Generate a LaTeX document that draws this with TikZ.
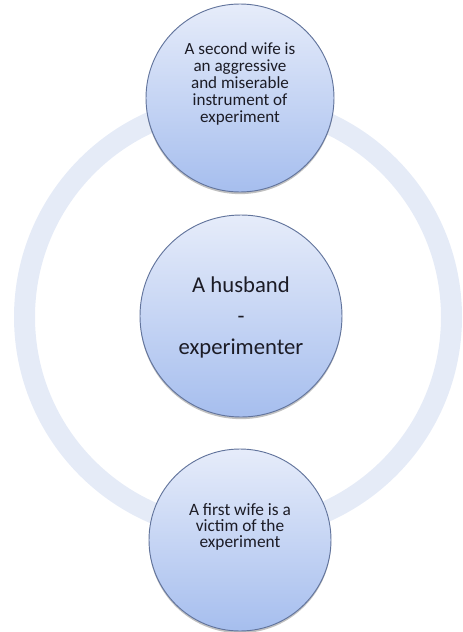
\documentclass[tikz,border=0pt]{standalone}
\usepackage{fontspec}
\setmainfont{Carlito}
\usetikzlibrary{shadows}
\definecolor{ringcol}{RGB}{229,235,247}
\definecolor{topcol}{RGB}{230,236,250}
\definecolor{botcol}{RGB}{166,190,238}
\definecolor{edgecol}{RGB}{98,116,156}
\definecolor{txtcol}{RGB}{28,28,38}
\tikzset{
  bubble/.style={circle, draw=edgecol, line width=0.7pt, top color=topcol, bottom color=botcol,
    inner sep=0pt,
    drop shadow={shadow xshift=0pt, shadow yshift=-1.6pt, opacity=0.35, fill=black!70}},
  ringstyle/.style={circle, draw=ringcol, line width=15.75pt, inner sep=0pt, minimum size=320.25pt},
  label/.style={align=center, text=txtcol, inner sep=0pt},
}
\begin{document}
\begin{tikzpicture}[x=0.75pt,y=-0.75pt]
\useasboundingbox (0,0) rectangle (462,632);
\node[ringstyle] (ring) at (238,317) {};
\node[bubble, minimum size=141pt] (top) at (240,98) {};
\node[bubble, minimum size=151.5pt] (mid) at (241,316) {};
\node[bubble, minimum size=136.5pt] (bot) at (240,540) {};
\node[label, font=\fontsize{12.8}{12.8}\selectfont] (toptxt) at ([yshift=10.5pt]top.center)
  {A second wife is\\an aggressive\\and miserable\\instrument of\\experiment};
\node[label, font=\fontsize{17}{23.5}\selectfont] (midtxt) at ([yshift=-1pt]mid.center)
  {A husband\\-\\experimenter};
\node[label, font=\fontsize{13}{12.2}\selectfont] (bottxt) at ([yshift=10pt]bot.center)
  {A first wife is a\\victim of the\\experiment};
\end{tikzpicture}
\end{document}
